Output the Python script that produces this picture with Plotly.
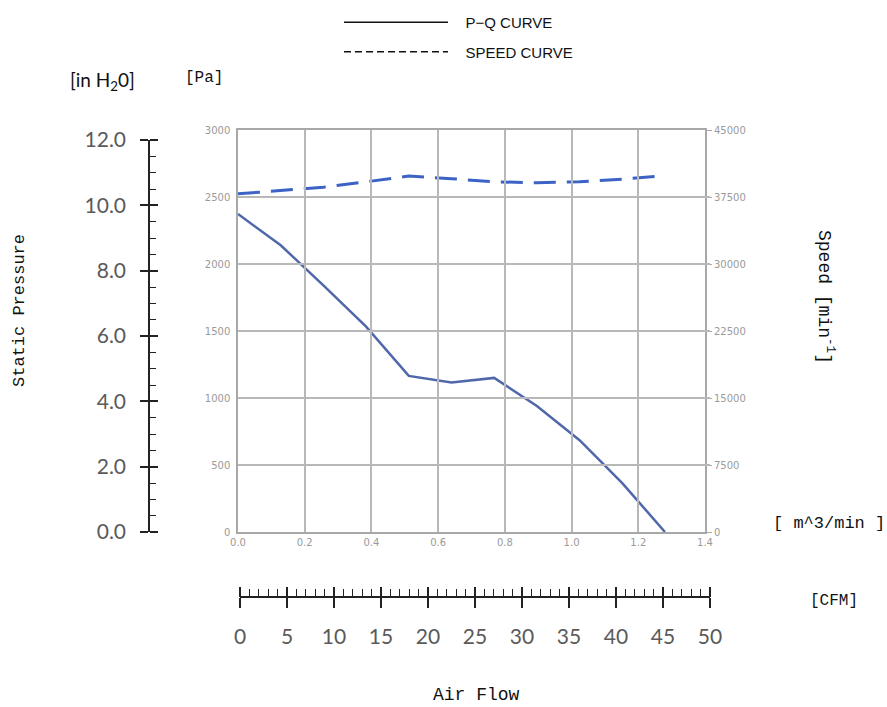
import plotly.graph_objects as go

# ---- data ----
flow_m3min = [0.0, 0.128, 0.256, 0.384, 0.512, 0.64, 0.768, 0.896, 1.024, 1.152, 1.28]
pressure_pa = [2373, 2140, 1840, 1533, 1165, 1115, 1150, 940, 685, 365, 0]
speed_min = [37850, 38200, 38600, 39200, 39850, 39550, 39200, 39100, 39200, 39500, 39900]

pa_ticks = [0, 500, 1000, 1500, 2000, 2500, 3000]
speed_ticks = [0, 7500, 15000, 22500, 30000, 37500, 45000]
inh2o_ticks = [0.0, 2.0, 4.0, 6.0, 8.0, 10.0, 12.0]
cfm_ticks = [0, 5, 10, 15, 20, 25, 30, 35, 40, 45, 50]
flow_ticks = [0.0, 0.2, 0.4, 0.6, 0.8, 1.0, 1.2, 1.4]

W, H = 887, 707
def px(v):
    return v / W
def py(v):
    return 1 - v / H

MONO = "Liberation Mono"
SCALEFONT = dict(family="Lato", size=21, color="#5a5a5a")
SMALL = dict(family="DejaVu Sans", size=10, color="#9a9a9a")
GRID = "#b8b8b8"
NB = "\u00a0"

fig = go.Figure()

fig.add_trace(go.Scatter(x=flow_m3min, y=pressure_pa, mode="lines",
                         line=dict(color="#5068ab", width=2.5),
                         xaxis="x", yaxis="y", showlegend=False))
fig.add_trace(go.Scatter(x=flow_m3min, y=speed_min, mode="lines",
                         line=dict(color="#3c62c6", width=3, dash="22px,11px"),
                         xaxis="x", yaxis="y2", showlegend=False))

# empty helper traces so that the extra scales get drawn
for xa, ya in [("x", "y3"), ("x", "y4"), ("x2", "y"), ("x3", "y")]:
    fig.add_trace(go.Scatter(x=[None], y=[None], xaxis=xa, yaxis=ya,
                             showlegend=False, hoverinfo="skip"))

# legend entries
fig.add_trace(go.Scatter(x=[None], y=[None], mode="lines", name=NB * 3 + "P−Q CURVE",
                         line=dict(color="#111", width=1.3), legendgroup="a"))
fig.add_trace(go.Scatter(x=[None], y=[None], mode="lines", name=NB * 3 + "SPEED CURVE",
                         line=dict(color="#111", width=1.3, dash="7px,4px"), legendgroup="b"))

inh2o_dom = [py(532), py(140)]
cfm_dom = [px(240), px(710)]
CFM_Y = py(597)
INH_X = px(149)

fig.update_layout(
    width=W, height=H, autosize=False,
    margin=dict(l=0, r=0, t=0, b=0, autoexpand=False),
    paper_bgcolor="white", plot_bgcolor="rgba(0,0,0,0)",
    legend=dict(x=px(339), y=py(6), xanchor="left", yanchor="top",
                font=dict(family="Liberation Sans", size=15, color="#111"),
                itemwidth=104, traceorder="grouped", tracegroupgap=7,
                bgcolor="rgba(0,0,0,0)"),
    xaxis=dict(domain=[px(238), px(705)], range=[0, 1.4], tickvals=flow_ticks,
               tickformat=".1f", showgrid=True, gridcolor=GRID, gridwidth=1.5,
               showline=True, linecolor="#a8a8a8", linewidth=1.5, mirror=True,
               ticks="", tickfont=SMALL, zeroline=False, anchor="y"),
    yaxis=dict(domain=[py(532), py(130)], range=[0, 3000], tickvals=pa_ticks,
               tickformat="d",
               showgrid=True, gridcolor=GRID, gridwidth=1.5,
               showline=True, linecolor="#a8a8a8", linewidth=1.5, mirror=True,
               ticks="", tickfont=SMALL, zeroline=False, anchor="x",
               ticklabelstandoff=4),
    yaxis2=dict(overlaying="y", side="right", anchor="x", range=[0, 45000],
                tickvals=speed_ticks, tickformat="d", showgrid=False, zeroline=False,
                ticks="outside", ticklen=6, tickcolor="#a8a8a8",
                tickfont=SMALL),
    yaxis3=dict(domain=inh2o_dom, anchor="free", position=INH_X, side="left",
                range=[0, 12], tickvals=inh2o_ticks, tickformat=".1f",
                showgrid=False, zeroline=False, showline=True, linecolor="#222",
                linewidth=1.5, ticks="outside", ticklen=8, tickwidth=1.5, tickcolor="#222",
                minor=dict(dtick=0.5, ticks="inside", ticklen=6, tickwidth=1.2,
                           tickcolor="#222", showgrid=False),
                tickfont=SCALEFONT, ticklabelstandoff=10),
    yaxis4=dict(domain=inh2o_dom, anchor="free", position=INH_X, side="right",
                range=[0, 12], tickvals=inh2o_ticks, showgrid=False, zeroline=False,
                showline=False, ticks="outside", ticklen=8, tickwidth=1.5, tickcolor="#222",
                showticklabels=False),
    xaxis2=dict(domain=cfm_dom, anchor="free", position=CFM_Y, side="bottom",
                range=[0, 50], tickvals=cfm_ticks, showgrid=False, zeroline=False,
                showline=True, linecolor="#222", linewidth=1.5,
                ticks="outside", ticklen=10, tickwidth=1.5, tickcolor="#222",
                minor=dict(dtick=1, ticks="inside", ticklen=7, tickwidth=1.2,
                           tickcolor="#222", showgrid=False),
                tickfont=SCALEFONT, ticklabelstandoff=11),
    xaxis3=dict(domain=cfm_dom, anchor="free", position=CFM_Y, side="top",
                range=[0, 50], tickvals=cfm_ticks, showgrid=False, zeroline=False,
                showline=False, ticks="outside", ticklen=10, tickwidth=1.5, tickcolor="#222",
                showticklabels=False),
)

ann = [
    dict(text="[in H<sub>2</sub>0]", x=px(102), y=py(81), font=dict(family="Lato", size=19, color="#111")),
    dict(text="[Pa]", x=px(204), y=py(78), font=dict(family=MONO, size=16, color="#111")),
    dict(text="Static Pressure", x=px(19), y=py(311), textangle=-90,
         font=dict(family=MONO, size=17, color="#111")),
    dict(text="Speed [min<sup>-1</sup>]", x=px(826), y=py(297), textangle=90,
         font=dict(family=MONO, size=18, color="#111")),
    dict(text="[ m^3/min ]", x=px(829), y=py(523), font=dict(family=MONO, size=17, color="#111")),
    dict(text="[CFM]", x=px(834), y=py(601), font=dict(family=MONO, size=16, color="#111")),
    dict(text="Air Flow", x=px(476), y=py(695), font=dict(family=MONO, size=18, color="#111")),
]
for a in ann:
    fig.add_annotation(xref="paper", yref="paper", showarrow=False,
                       xanchor="center", yanchor="middle", **a)

fig.write_html("out.html", config={"displayModeBar": False},
               post_script="document.body.style.margin='0';document.body.style.padding='0';")
